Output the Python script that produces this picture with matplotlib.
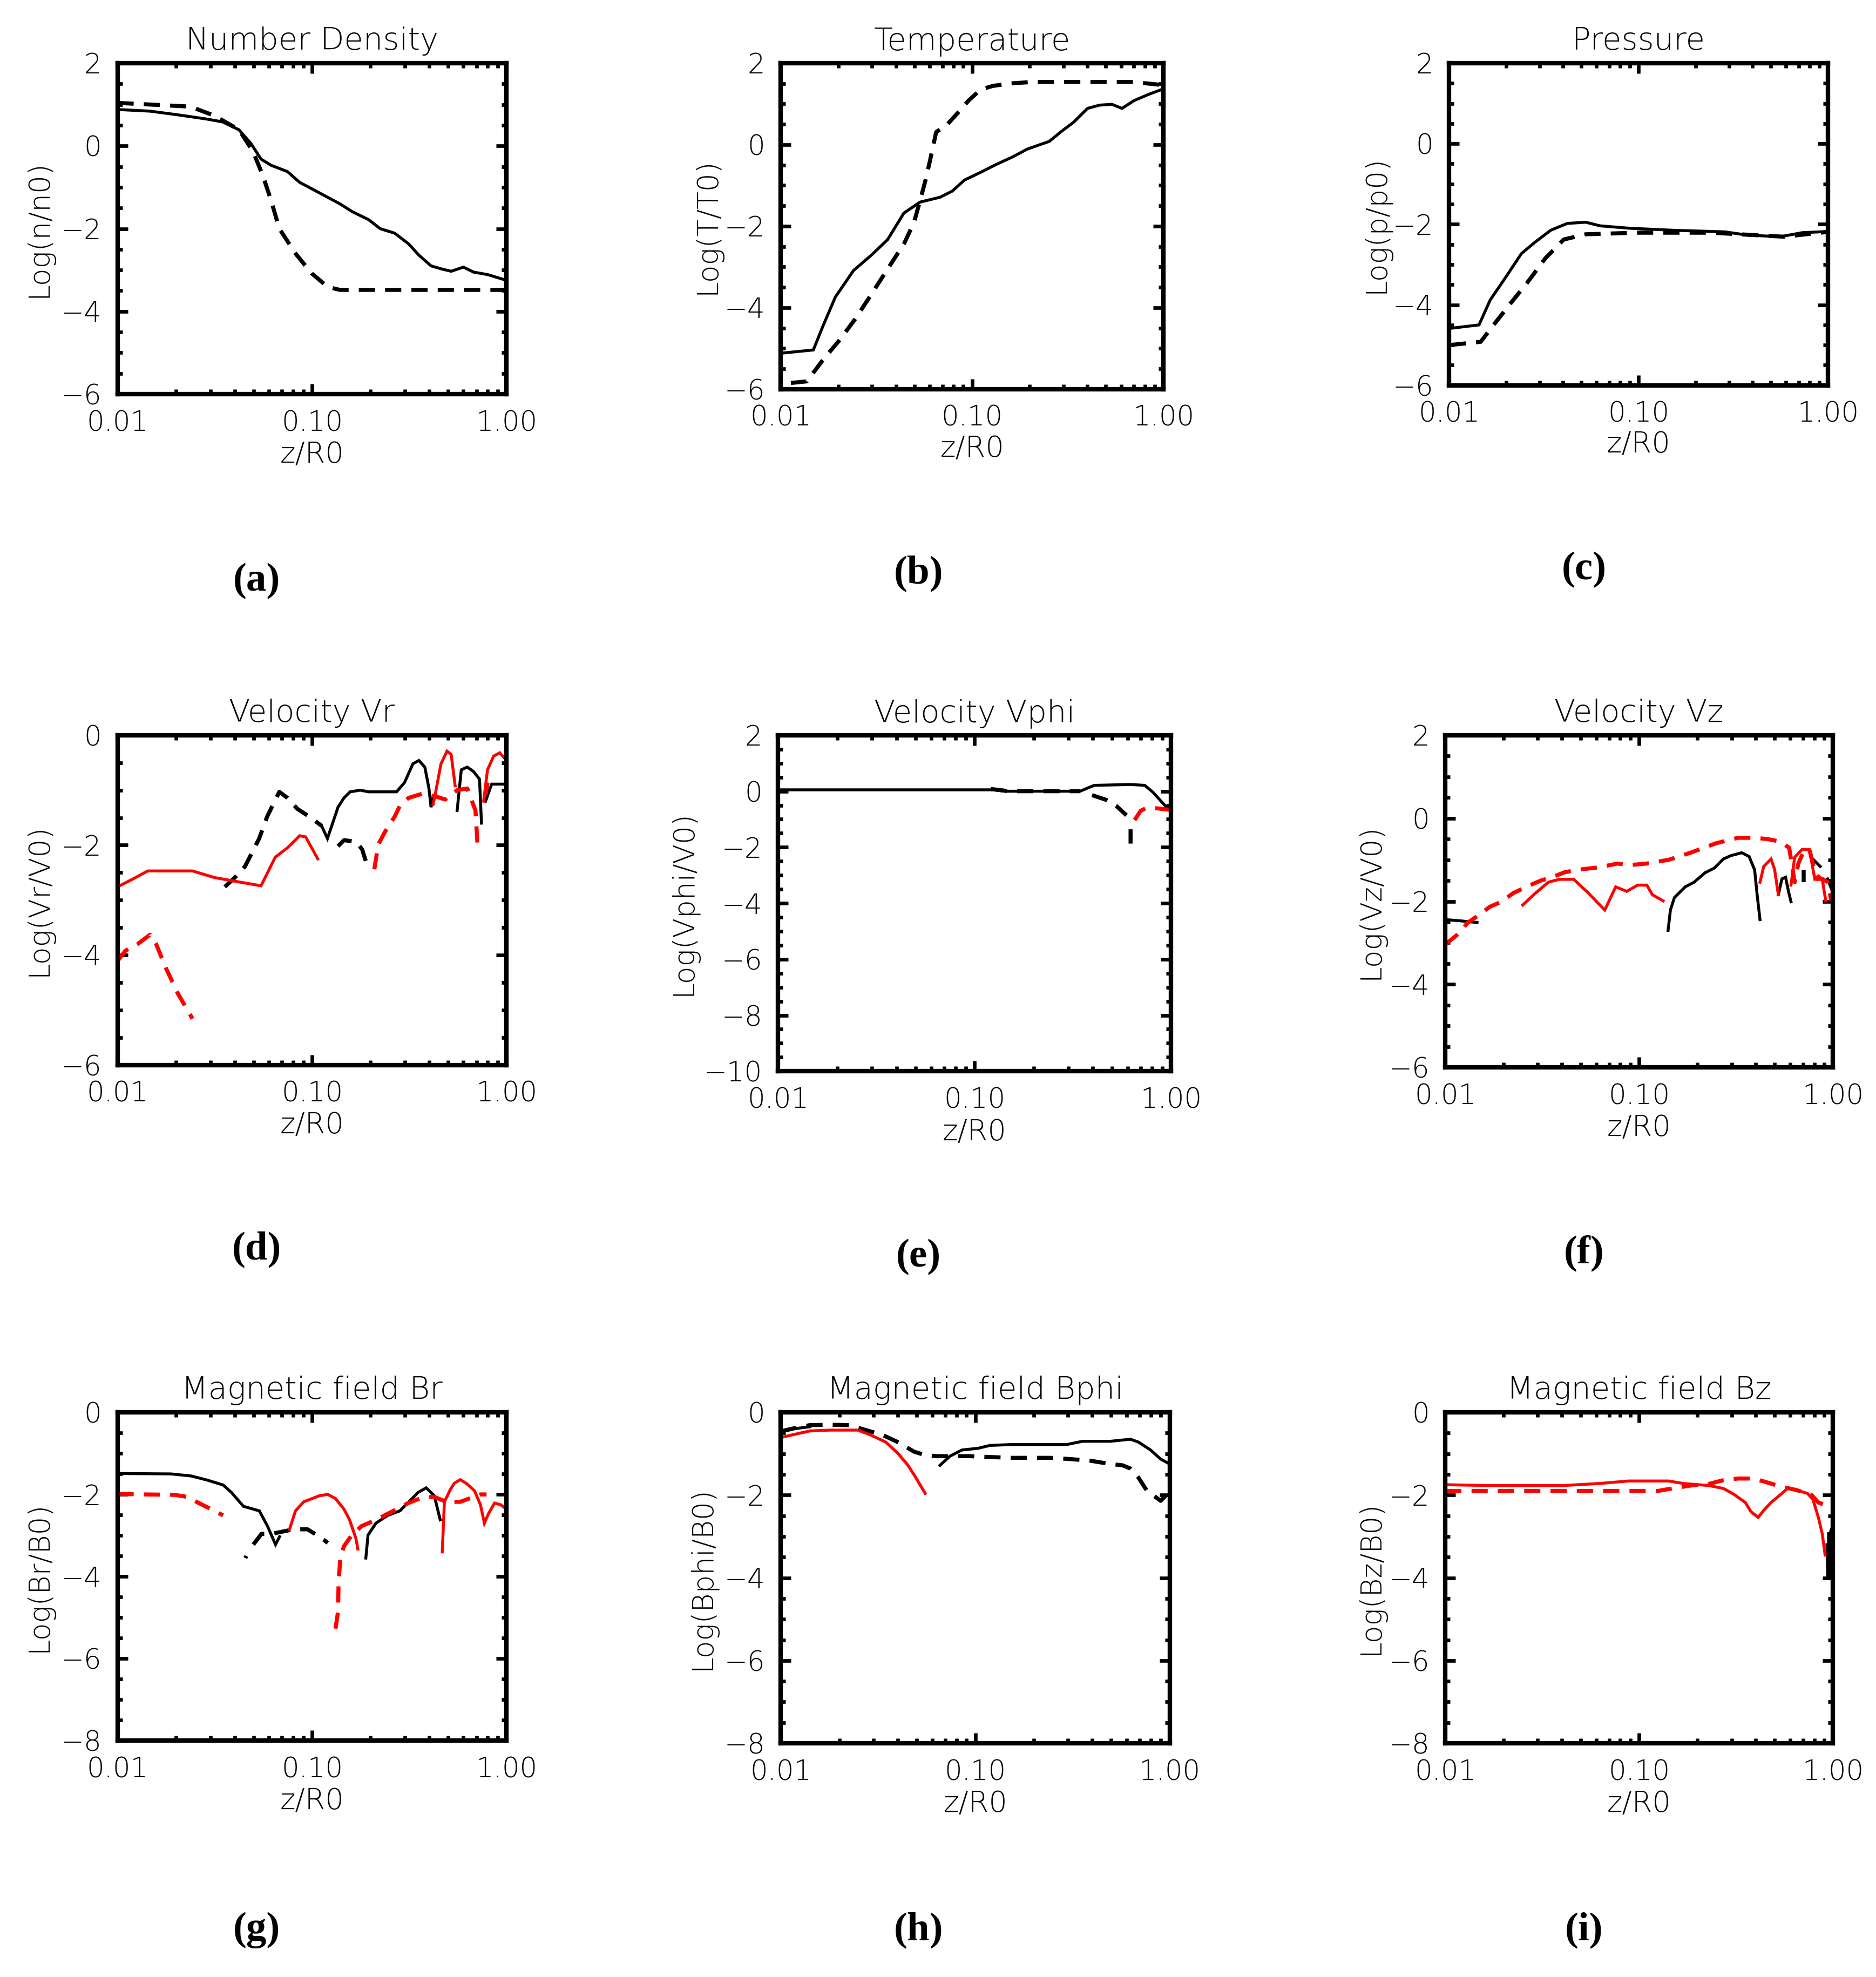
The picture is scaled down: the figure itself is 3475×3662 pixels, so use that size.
import numpy as np
import matplotlib
matplotlib.use('Agg')
import matplotlib.pyplot as plt
from matplotlib.ticker import FixedLocator, FixedFormatter, LogLocator, NullFormatter, MultipleLocator

# ---- dati (z/R0 e log10 della grandezza) ----
# (a) Number Density
a_z_solid = [0.010, 0.0147, 0.0205, 0.0287, 0.0347, 0.0421, 0.0485, 0.0547, 0.0617, 0.0747,
             0.0863, 0.1096, 0.139, 0.161, 0.195, 0.224, 0.266, 0.314, 0.354, 0.409,
             0.460, 0.519, 0.600, 0.676, 0.798, 1.0]
a_solid = [0.88, 0.84, 0.75, 0.65, 0.58, 0.39, 0.06, -0.32, -0.47, -0.62,
           -0.88, -1.14, -1.40, -1.59, -1.78, -2.0, -2.11, -2.37, -2.64, -2.90,
           -2.97, -3.03, -2.93, -3.05, -3.11, -3.25]
a_z_dash = [0.010, 0.0237, 0.0315, 0.0421, 0.0497, 0.056, 0.0617, 0.0679, 0.0822, 0.0995, 0.1205, 0.139, 1.0]
a_dash = [1.04, 0.95, 0.73, 0.39, -0.13, -0.73, -1.33, -2.0, -2.60, -3.08, -3.41, -3.48, -3.48]

# (b) Temperature
b_z_solid = [0.0100, 0.0148, 0.0167, 0.0193, 0.0240, 0.0298, 0.0362, 0.0440, 0.0535, 0.0681,
             0.0788, 0.0912, 0.1107, 0.1345, 0.163, 0.194, 0.253, 0.292, 0.339, 0.401,
             0.464, 0.537, 0.607, 0.701, 0.832, 1.0]
b_solid = [-5.12, -5.04, -4.43, -3.74, -3.09, -2.71, -2.33, -1.68, -1.41, -1.29,
           -1.14, -0.87, -0.68, -0.48, -0.30, -0.11, 0.08, 0.32, 0.55, 0.89,
           0.97, 0.99, 0.89, 1.08, 1.23, 1.37]
b_z_dash = [0.0113, 0.0137, 0.0167, 0.0202, 0.0245, 0.0298, 0.0362, 0.0440, 0.0497, 0.0535,
            0.0574, 0.0604, 0.0649, 0.0733, 0.0869, 0.0957, 0.1107, 0.128, 0.156, 0.208,
            0.322, 0.668, 0.832, 1.0]
b_dash = [-5.85, -5.81, -5.27, -4.81, -4.28, -3.67, -3.05, -2.44, -1.91, -1.37,
          -0.83, -0.37, 0.31, 0.47, 0.85, 1.08, 1.35, 1.44, 1.50, 1.54,
          1.54, 1.54, 1.50, 1.46]

# (c) Pressure
c_z_solid = [0.0100, 0.0144, 0.0165, 0.0197, 0.0241, 0.0282, 0.0344, 0.0421, 0.0526, 0.0628,
             0.0898, 0.153, 0.286, 0.375, 0.560, 0.731, 1.0]
c_solid = [-4.59, -4.50, -3.88, -3.35, -2.73, -2.46, -2.15, -1.98, -1.95, -2.04,
           -2.10, -2.15, -2.19, -2.27, -2.31, -2.21, -2.18]
c_z_dash = [0.0101, 0.0147, 0.0172, 0.0215, 0.0258, 0.0322, 0.0403, 0.0526, 0.0982, 0.240, 0.585, 1.0]
c_dash = [-5.0, -4.92, -4.50, -3.92, -3.46, -2.85, -2.38, -2.25, -2.21, -2.21, -2.31, -2.19]

# (d) Velocity Vr  (None = interruzione della curva)
d_z_ksolid = [0.112, 0.120, 0.136, 0.146, 0.157, 0.177, 0.195, 0.272, 0.299, 0.330,
              0.354, 0.380, 0.399, 0.409, 0.419, None, 0.557, 0.585, 0.628, 0.676,
              0.726, 0.743, None, 0.780, 0.838, 1.0]
d_ksolid = [-1.65, -1.88, -1.31, -1.14, -1.03, -1.00, -1.03, -1.03, -0.86, -0.52,
            -0.46, -0.58, -0.97, -1.31, -1.14, None, -1.37, -0.63, -0.58, -0.66,
            -0.80, -1.60, None, -1.20, -0.89, -0.89]
d_z_kdash = [0.0356, 0.0401, 0.0452, 0.0535, 0.0588, 0.0679, 0.0747, 0.0841, 0.0995, 0.112,
             None, 0.136, 0.146, 0.169, 0.181, 0.195]
d_kdash = [-2.76, -2.59, -2.39, -1.88, -1.48, -1.03, -1.14, -1.34, -1.51, -1.65,
           None, -2.02, -1.91, -1.94, -2.08, -2.44]
d_z_rsolid = [0.0100, 0.0121, 0.0143, 0.0243, 0.0315, 0.0421, 0.0547, 0.0647, 0.0747, 0.0863,
              0.0927, 0.107, None, 0.419, 0.429, 0.460, 0.494, 0.519, 0.544, None,
              0.762, 0.798, 0.858, 0.922, 1.0]
d_rsolid = [-2.76, -2.61, -2.47, -2.47, -2.59, -2.67, -2.74, -2.22, -2.05, -1.83,
            -1.85, -2.25, None, -1.26, -1.09, -0.52, -0.29, -0.35, -0.92, None,
            -1.20, -0.63, -0.38, -0.32, -0.46]
d_z_rdash = [0.0100, 0.0110, 0.0127, 0.0147, 0.0158, 0.0177, 0.0205, 0.0243, None, 0.209,
             0.219, 0.236, 0.266, 0.285, 0.314, 0.372, 0.429, 0.483, 0.557, 0.628,
             0.692, 0.708, None, 0.780, 0.798]
d_rdash = [-4.11, -3.92, -3.80, -3.63, -3.80, -4.23, -4.71, -5.16, None, -2.44,
           -1.99, -1.77, -1.48, -1.26, -1.14, -1.06, -1.11, -1.17, -1.00, -0.97,
           -1.37, -1.96, None, -1.09, -0.86]

# (e) Velocity Vphi
e_z_ksolid = [0.0100, 0.124, 0.143, 0.344, 0.406, 0.622, 0.734, 0.807, 0.953, 1.0]
e_ksolid = [0.05, 0.05, 0.0, 0.0, 0.21, 0.24, 0.21, -0.03, -0.59, -0.65]
e_z_kdash = [0.121, 0.150, 0.344, None, 0.396, 0.468, 0.527, 0.593, None, 0.622, 0.622]
e_kdash = [0.08, 0.0, 0.0, None, -0.14, -0.31, -0.53, -0.86, None, -1.36, -1.87]
e_z_rdash = [0.652, 0.700, 0.752, 0.847, 1.0]
e_rdash = [-1.03, -0.70, -0.59, -0.61, -0.67]

# (f) Velocity Vz
f_z_ksolid = [0.0100, 0.0120, 0.0146, None, 0.141, 0.145, 0.152, 0.173, 0.192, 0.219,
              0.244, 0.272, 0.297, 0.338, 0.369, 0.394, 0.406, 0.420, None, 0.522,
              0.545, 0.569, 0.589, 0.607, None, 0.771, 0.859, None, 0.938, 0.979]
f_ksolid = [-2.44, -2.47, -2.51, None, -2.70, -2.21, -1.91, -1.65, -1.54, -1.31,
            -1.20, -0.98, -0.90, -0.83, -0.92, -1.24, -1.84, -2.44, None, -1.84,
            -1.46, -1.42, -1.76, -2.01, None, -0.94, -1.16, None, -1.46, -1.69]
f_z_kdash = [0.707, 0.707]
f_kdash = [-1.24, -1.54]
f_z_rsolid = [0.0251, 0.0286, 0.0340, 0.0387, 0.0460, 0.0547, 0.0665, 0.0757, 0.0863, 0.0982,
              0.1096, 0.117, 0.133, None, 0.420, 0.439, 0.479, 0.500, 0.522, None,
              0.607, 0.634, 0.692, 0.755, 0.805, 0.841, 0.879, 0.917]
f_rsolid = [-2.09, -1.84, -1.54, -1.47, -1.47, -1.80, -2.21, -1.65, -1.76, -1.61,
            -1.61, -1.84, -1.99, None, -1.54, -1.16, -0.98, -1.24, -1.84, None,
            -1.61, -0.94, -0.75, -0.75, -1.46, -1.39, -1.46, -1.99]
f_z_rdash = [0.0100, 0.0115, 0.0131, 0.0146, 0.0170, 0.0193, 0.0225, 0.0262, 0.0311, 0.0355,
             0.0413, 0.0481, 0.0624, 0.0774, 0.0881, 0.1096, 0.142, 0.184, 0.250, 0.324,
             0.394, 0.458, 0.533, 0.594, 0.634, 0.662, 0.707, 0.755, 0.787, 0.822,
             0.879, 0.938, 0.979]
f_rdash = [-3.04, -2.81, -2.51, -2.36, -2.13, -2.02, -1.80, -1.65, -1.50, -1.42,
           -1.30, -1.24, -1.18, -1.09, -1.13, -1.09, -1.00, -0.83, -0.60, -0.47,
           -0.47, -0.50, -0.56, -0.71, -1.54, -1.09, -0.79, -0.75, -1.09, -1.46,
           -1.46, -1.54, -1.99]

# (g) Magnetic field Br
g_z_ksolid = [0.0100, 0.0188, 0.0239, 0.0289, 0.0349, 0.0385, 0.0444, 0.0536, 0.0590, 0.0649,
              0.0681, None, 0.189, 0.194, 0.213, 0.245, 0.283, 0.327, 0.351, 0.386,
              0.425, 0.456]
g_ksolid = [-1.49, -1.50, -1.55, -1.65, -1.77, -1.95, -2.29, -2.40, -2.77, -3.22,
            -3.03, None, -3.55, -2.99, -2.70, -2.51, -2.40, -2.10, -1.95, -1.84,
            -2.03, -2.62]
g_z_kdash = [0.0454, 0.0460, None, 0.0499, 0.0550, 0.0618, 0.0681, 0.0804, 0.0948, 0.1094, 0.1205]
g_kdash = [-3.55, -3.50, None, -3.22, -2.96, -2.96, -2.92, -2.85, -2.85, -3.03, -3.18]
g_z_rsolid = [0.0766, 0.0822, 0.0906, 0.1094, 0.1205, 0.132, 0.146, 0.156, 0.168, 0.172,
              None, 0.467, 0.479, 0.514, 0.538, 0.578, 0.621, 0.684, 0.734, 0.769,
              0.807, 0.867, 0.931, 1.0]
g_rsolid = [-2.85, -2.40, -2.18, -2.03, -2.00, -2.10, -2.36, -2.62, -3.07, -3.33,
            None, -3.40, -2.18, -1.88, -1.73, -1.64, -1.73, -1.91, -2.25, -2.70,
            -2.47, -2.21, -2.25, -2.36]
g_z_rdash = [0.0100, 0.0197, 0.0228, 0.0262, 0.0303, 0.0349, None, 0.132, 0.136, 0.137,
             0.140, 0.146, 0.160, 0.180, 0.213, 0.245, 0.283, 0.312, 0.377, 0.425,
             0.490, 0.578, 0.734, 0.789]
g_rdash = [-1.99, -2.01, -2.06, -2.21, -2.36, -2.51, None, -5.27, -4.86, -4.11,
           -3.52, -3.26, -2.99, -2.77, -2.62, -2.47, -2.32, -2.21, -2.06, -2.06,
           -2.18, -2.18, -2.00, -2.00]

# (h) Magnetic field Bphi
h_z_ksolid = [0.0100, 0.0116, 0.0141, None, 0.0659, 0.0741, 0.0855, 0.1033, 0.119, 0.151,
              0.294, 0.356, 0.495, 0.628, 0.690, 0.796, 0.897, 1.0]
h_ksolid = [-0.48, -0.40, -0.35, None, -1.28, -1.06, -0.91, -0.87, -0.80, -0.78,
            -0.78, -0.70, -0.70, -0.65, -0.72, -0.91, -1.13, -1.25]
h_z_kdash = [0.0100, 0.0116, 0.0141, 0.0179, 0.0226, 0.0274, 0.0331, 0.0400, 0.0484, 0.0557,
             0.0643, 0.0778, 0.0940, 0.151, 0.243, 0.308, 0.391, 0.495, 0.571, 0.628,
             0.690, 0.759, 0.836, 0.897, 0.964]
h_kdash = [-0.46, -0.39, -0.31, -0.30, -0.31, -0.43, -0.54, -0.72, -0.95, -1.04,
           -1.06, -1.06, -1.06, -1.10, -1.10, -1.13, -1.17, -1.25, -1.28, -1.36,
           -1.58, -1.88, -2.03, -2.14, -1.99]
h_z_rsolid = [0.0100, 0.0116, 0.0141, 0.0179, 0.0249, 0.0287, 0.0347, 0.0400, 0.0451, 0.0495, 0.0553]
h_rsolid = [-0.61, -0.54, -0.45, -0.43, -0.43, -0.54, -0.72, -0.99, -1.28, -1.58, -1.96]

# (i) Magnetic field Bz
i_z_ksolid = [0.930, 0.940, 0.950, 0.958, 0.966, 0.975, 1.0]
i_ksolid = [-3.20, -4.05, -2.90, -4.05, -3.00, -2.85, -2.75]
i_z_rsolid = [0.0100, 0.0170, 0.0404, 0.0624, 0.0881, 0.142, 0.169, 0.229, 0.272, 0.310,
              0.353, 0.377, 0.411, 0.439, 0.479, 0.545, 0.582, 0.649, 0.738, 0.787,
              0.841, 0.879, 0.910]
i_rsolid = [-1.75, -1.77, -1.77, -1.72, -1.66, -1.66, -1.72, -1.77, -1.84, -1.99,
            -2.18, -2.40, -2.54, -2.37, -2.18, -1.96, -1.84, -1.88, -1.96, -2.10,
            -2.55, -2.93, -3.45]
i_z_rdash = [0.0100, 0.125, 0.148, 0.184, 0.229, 0.272, 0.324, 0.385, 0.439, 0.500,
             0.545, 0.649, 0.771, 0.841, 0.917, 1.0]
i_rdash = [-1.90, -1.90, -1.84, -1.77, -1.73, -1.64, -1.60, -1.60, -1.67, -1.75,
           -1.80, -1.88, -1.99, -2.18, -2.25, -2.33]

titoli = ["Number Density", "Temperature", "Pressure",
          "Velocity Vr", "Velocity Vphi", "Velocity Vz",
          "Magnetic field Br", "Magnetic field Bphi", "Magnetic field Bz"]
etichette_y = ["Log(n/n0)", "Log(T/T0)", "Log(p/p0)",
               "Log(Vr/V0)", "Log(Vphi/V0)", "Log(Vz/V0)",
               "Log(Br/B0)", "Log(Bphi/B0)", "Log(Bz/B0)"]
lettere = ["(a)", "(b)", "(c)", "(d)", "(e)", "(f)", "(g)", "(h)", "(i)"]
limiti_y = [(-6, 2), (-6, 2), (-6, 2), (-6, 0), (-10, 2), (-6, 2), (-8, 0), (-8, 0), (-8, 0)]
x_ticks = [0.01, 0.1, 1.0]
x_tick_labels = ["0.01", "0.10", "1.00"]

# curve per pannello: (z, valori, colore, tratteggio)
curve = [
    [(a_z_solid, a_solid, 'k', '-'), (a_z_dash, a_dash, 'k', '--')],
    [(b_z_solid, b_solid, 'k', '-'), (b_z_dash, b_dash, 'k', '--')],
    [(c_z_solid, c_solid, 'k', '-'), (c_z_dash, c_dash, 'k', '--')],
    [(d_z_ksolid, d_ksolid, 'k', '-'), (d_z_kdash, d_kdash, 'k', '--'),
     (d_z_rsolid, d_rsolid, 'r', '-'), (d_z_rdash, d_rdash, 'r', '--')],
    [(e_z_ksolid, e_ksolid, 'k', '-'), (e_z_kdash, e_kdash, 'k', '--'),
     (e_z_rdash, e_rdash, 'r', '--')],
    [(f_z_ksolid, f_ksolid, 'k', '-'), (f_z_kdash, f_kdash, 'k', '--'),
     (f_z_rsolid, f_rsolid, 'r', '-'), (f_z_rdash, f_rdash, 'r', '--')],
    [(g_z_ksolid, g_ksolid, 'k', '-'), (g_z_kdash, g_kdash, 'k', '--'),
     (g_z_rsolid, g_rsolid, 'r', '-'), (g_z_rdash, g_rdash, 'r', '--')],
    [(h_z_ksolid, h_ksolid, 'k', '-'), (h_z_kdash, h_kdash, 'k', '--'),
     (h_z_rsolid, h_rsolid, 'r', '-')],
    [(i_z_ksolid, i_ksolid, 'k', '-'), (i_z_rsolid, i_rsolid, 'r', '-'),
     (i_z_rdash, i_rdash, 'r', '--')],
]

# riquadri degli assi (in pixel su una pagina 1485 x 1565)
riquadri = [(93, 50, 401, 312), (618, 50, 921, 308), (1147, 50, 1447, 305),
            (93, 582, 401, 843), (616, 582, 927, 848), (1144, 582, 1451, 845),
            (93, 1118, 401, 1378), (618, 1118, 926, 1380), (1144, 1118, 1451, 1380)]
pos_lettere = [(203, 460), (727, 454), (1254, 451),
               (203, 989), (727, 995), (1254, 992),
               (203, 1528), (727, 1528), (1254, 1528)]
ylab_x = [-0.165, -0.155, -0.155, -0.165, -0.205, -0.155, -0.165, -0.165, -0.155]

plt.rcParams['font.family'] = 'DejaVu Sans'
plt.rcParams['font.weight'] = 'light'
plt.rcParams['axes.titleweight'] = 'light'
plt.rcParams['axes.labelweight'] = 'light'
W, H = 1485.0, 1565.0
fig = plt.figure(figsize=(3475 / 300, 3662 / 300), dpi=300)

for k in range(9):
    x1, y1, x2, y2 = riquadri[k]
    ax = fig.add_axes([x1 / W, 1 - y2 / H, (x2 - x1) / W, (y2 - y1) / H])

    for zz, vv, col, ls in curve[k]:
        zz = np.array(zz, dtype=float)
        vv = np.array(vv, dtype=float)
        if ls == '-':
            ax.plot(zz, vv, color=col, lw=1.3, solid_joinstyle='miter')
        else:
            ax.plot(zz, vv, color=col, lw=1.8, linestyle=(0, (4.0, 2.5)))

    ax.set_xscale('log')
    ax.set_xlim(0.01, 1.0)
    ax.set_ylim(*limiti_y[k])
    ax.xaxis.set_major_locator(FixedLocator(x_ticks))
    ax.xaxis.set_major_formatter(FixedFormatter(x_tick_labels))
    ax.xaxis.set_minor_locator(LogLocator(base=10, subs=np.arange(2, 10)))
    ax.xaxis.set_minor_formatter(NullFormatter())
    ax.yaxis.set_major_locator(MultipleLocator(2))
    ax.yaxis.set_minor_locator(MultipleLocator(0.5))

    ax.tick_params(which='both', direction='in', top=True, right=True, labelsize=12.3, width=1.6)
    ax.tick_params(which='major', length=4.5, pad=7)
    ax.tick_params(which='minor', length=2.2)
    for sp in ax.spines.values():
        sp.set_linewidth(2.0)

    ax.set_title(titoli[k], fontsize=13.8, pad=6)
    ax.set_ylabel(etichette_y[k], fontsize=12.8)
    ax.yaxis.set_label_coords(ylab_x[k], 0.5)
    ax.set_xlabel("z/R0", fontsize=13)
    ax.xaxis.set_label_coords(0.5, -0.14)

    lx, ly = pos_lettere[k]
    fig.text(lx / W, 1 - ly / H, lettere[k], fontsize=18, fontweight='bold',
             family='Liberation Serif', ha='center', va='center')

fig.savefig('out.png', dpi=300)
